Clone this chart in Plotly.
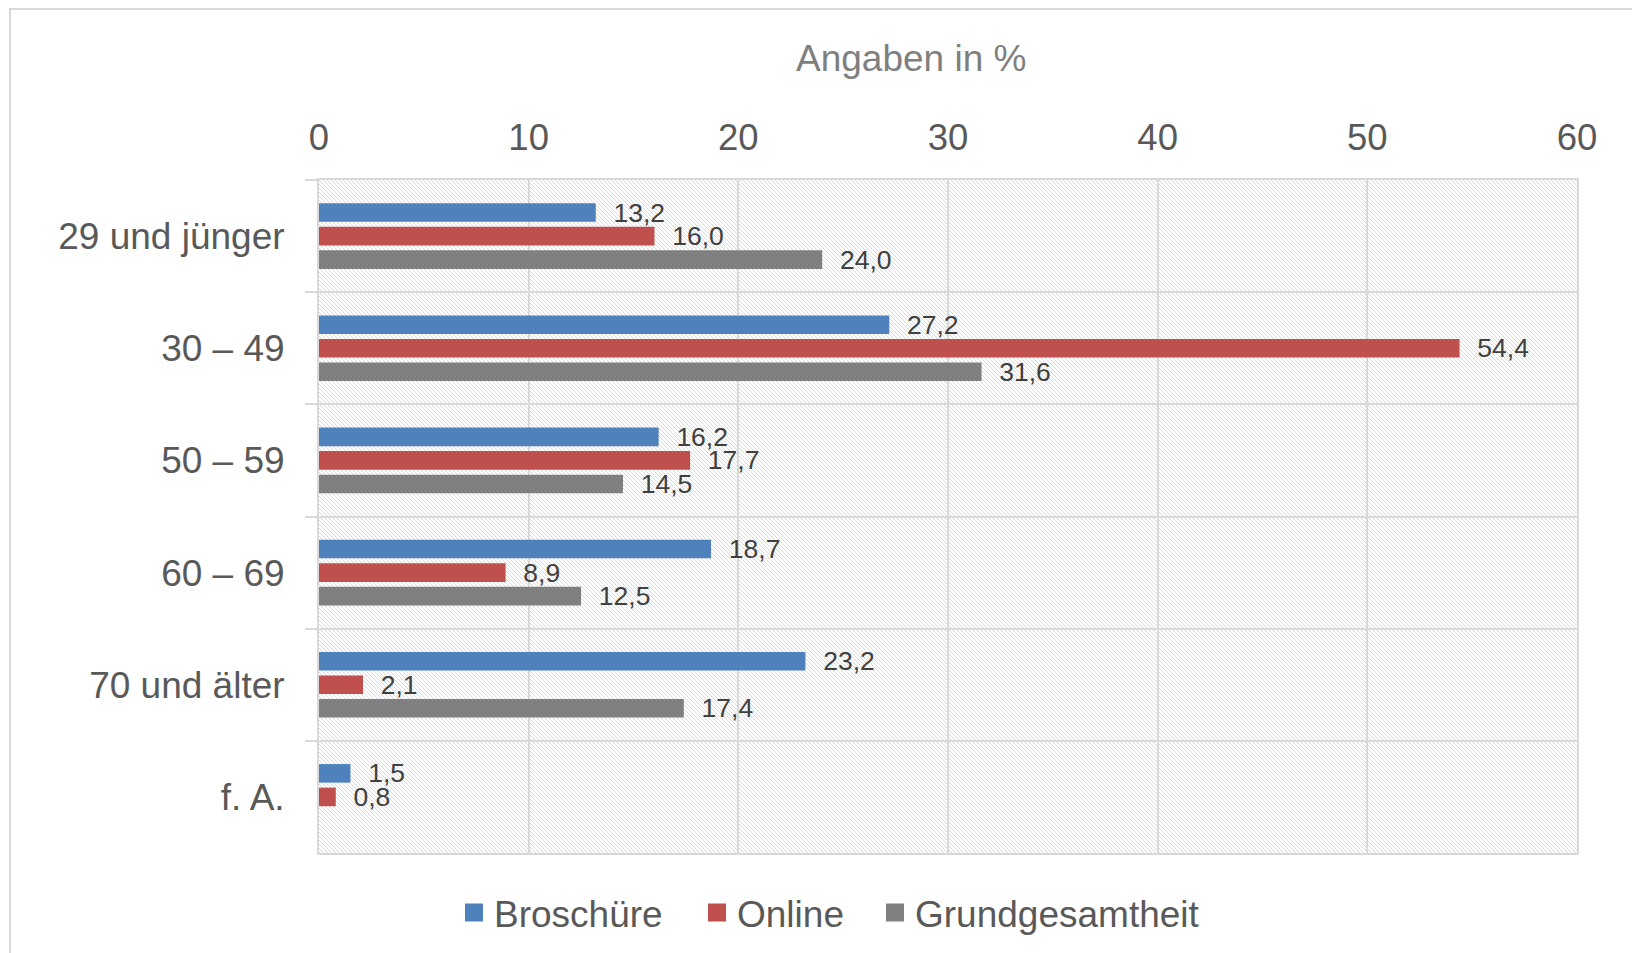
import base64
import plotly.graph_objects as go

categories = ["29 und jünger", "30 – 49", "50 – 59", "60 – 69", "70 und älter", "f. A."]
broschuere = [13.2, 27.2, 16.2, 18.7, 23.2, 1.5]
online = [16.0, 54.4, 17.7, 8.9, 2.1, 0.8]
grundgesamtheit = [24.0, 31.6, 14.5, 12.5, 17.4, None]
series_names = ["Broschüre", "Online", "Grundgesamtheit"]
series_colors = ["#4f81bd", "#c0504d", "#808080"]

W, H = 1640, 953
OFF = 8  # page body margin
L, T = 319 - OFF, 180 - OFF
R, B = W - (1577 - OFF), H - (853 - OFF)
PW, PH = W - L - R, H - T - B

FONT = "Liberation Sans, Arial, sans-serif"
GRID = "#d9d9d9"


def px(x):
    return (x - OFF - L) / PW


def py(y):
    return (T + PH - (y - OFF)) / PH


# hatched plot background (like the Excel pattern fill)
hatch = (
    f'<svg xmlns="http://www.w3.org/2000/svg" width="{PW}" height="{PH}">'
    '<defs><pattern id="h" width="4" height="4" patternUnits="userSpaceOnUse">'
    '<path d="M-1,-1 L5,5 M-1,3 L1,5 M3,-1 L5,1" stroke="#dadada" stroke-width="1"/>'
    '</pattern></defs><rect width="100%" height="100%" fill="url(#h)"/></svg>'
)
hatch_src = "data:image/svg+xml;base64," + base64.b64encode(hatch.encode()).decode()

legend_ids = ["legend", "legend2", "legend3"]
legend_x = [465, 708, 886]  # left edge of the legend squares

fig = go.Figure()
for name, vals, col, lid in zip(series_names, [broschuere, online, grundgesamtheit],
                                series_colors, legend_ids):
    fig.add_trace(go.Bar(
        y=categories, x=vals, name=name, orientation="h",
        marker=dict(color=col, line=dict(width=0)),
        texttemplate="\u00a0\u00a0%{x:.1f}", textposition="outside",
        textangle=0, constraintext="none", cliponaxis=False,
        textfont=dict(family=FONT, size=26.5, color="#404040"),
        showlegend=False, hoverinfo="x+name",
    ))
    # legend entry with bigger square marker
    fig.add_trace(go.Scatter(
        x=[None], y=[None], mode="markers", name=name, legend=lid,
        marker=dict(symbol="square", size=16, color=col, line=dict(color=col, width=2)),
    ))

legends = {}
for lid, lx in zip(legend_ids, legend_x):
    legends[lid] = dict(orientation="h", x=px(lx - 11), xanchor="left",
                        y=py(913), yanchor="middle",
                        font=dict(family=FONT, size=37, color="#595959"), itemwidth=30,
                        bgcolor="rgba(0,0,0,0)")

fig.update_layout(
    width=W, height=H,
    margin=dict(l=L, r=R, t=T, b=B),
    paper_bgcolor="white", plot_bgcolor="white",
    separators=", ",
    barmode="group", bargap=0.37, bargroupgap=0.21,
    font=dict(family=FONT, color="#595959"),
    showlegend=True,
    images=[dict(source=hatch_src, xref="paper", yref="paper", x=0, y=1,
                 sizex=1, sizey=1, xanchor="left", yanchor="top",
                 sizing="stretch", layer="below")],
    annotations=[dict(text="Angaben in %", xref="paper", yref="paper",
                      x=px(911), y=py(59),
                      xanchor="center", yanchor="middle", showarrow=False,
                      font=dict(family=FONT, size=37, color="#7f7f7f"))],
    shapes=[dict(type="rect", xref="paper", yref="paper",
                 x0=px(10), x1=1.2, y0=-0.3, y1=py(9),
                 line=dict(color=GRID, width=2), layer="below")],
    **legends,
)

fig.update_xaxes(
    side="top", range=[0, 60], dtick=10, showgrid=True, gridcolor=GRID, gridwidth=2,
    zeroline=False, ticks="", ticklabelstandoff=13,
    showline=True, mirror=True, linecolor=GRID, linewidth=2,
    tickfont=dict(family=FONT, size=36.5, color="#595959"),
)
fig.update_yaxes(
    autorange="reversed", tickson="boundaries", ticks="outside", ticklen=12,
    tickcolor=GRID, tickwidth=2, showgrid=True, gridcolor=GRID, gridwidth=2,
    showline=True, mirror=True, linecolor=GRID, linewidth=2,
    ticklabelstandoff=25,
    tickfont=dict(family=FONT, size=37, color="#595959"),
)

fig.write_html("out.html")
